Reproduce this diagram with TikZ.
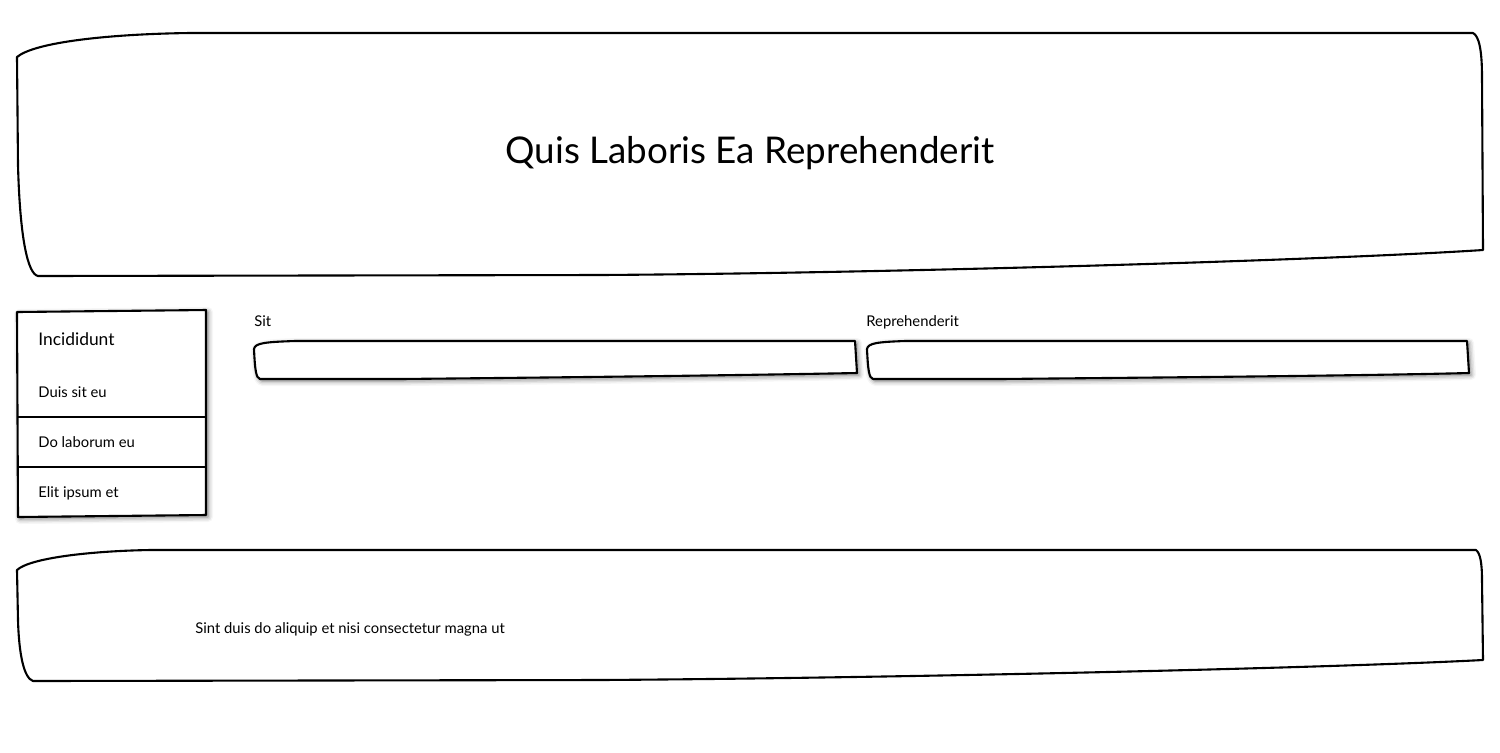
\documentclass[tikz,border=0pt]{standalone}
\usepackage{fontspec}
\setmainfont{Lato}
\usetikzlibrary{shadows.blur}
\tikzset{
  sketch/.style={draw=black, line width=1.05pt, line join=round, fill=white},
  shadowed/.style={sketch, blur shadow={shadow xshift=1pt, shadow yshift=-1pt, shadow blur radius=2.5pt, shadow opacity=55}},
  txt/.style={inner sep=0pt, anchor=base west, text=black},
  small/.style={font=\fontsize{7.4}{9}\selectfont},
}
\begin{document}
\begin{tikzpicture}[x=0.5pt, y=-0.5pt]
\useasboundingbox (0,0) rectangle (1500,752);
% header
\draw[sketch] (17,57) .. controls (35,42) and (110,34) .. (190,33) -- (1473,33)
  .. controls (1479,36) and (1482,50) .. (1482,77) -- (1483,250)
  .. controls (1330,260) and (900,273) .. (600,275) -- (38,276)
  .. controls (28,274) and (20,240) .. (18,165) -- cycle;
\node[inner sep=0pt, anchor=base, font=\fontsize{18.4}{21}\selectfont] (title) at (750,163) {Quis Laboris Ea Reprehenderit};
% sidebar
\draw[shadowed] (17,312) -- (206,310) -- (206,515) -- (18,517) -- cycle;
\coordinate (d1l) at (17,417); \coordinate (d1r) at (206,417);
\coordinate (d2l) at (17,467); \coordinate (d2r) at (206,467);
\draw[line width=1.05pt] (d1l) -- (d1r);
\draw[line width=1.05pt] (d2l) -- (d2r);
\node[txt, font=\fontsize{8.7}{10}\selectfont] (inc) at (38,345) {Incididunt};
\node[txt, small] (duis) at (38,397) {Duis sit eu};
\node[txt, small] (dolab) at (38,447) {Do laborum eu};
\node[txt, small] (elit) at (38,497) {Elit ipsum et};
% labels
\node[txt, small] (sit) at (254,326) {Sit};
\node[txt, small] (rep) at (866,326) {Reprehenderit};
% inputs
\draw[shadowed] (254,349) .. controls (255,343) and (265,342) .. (295,341) -- (855,341)
  -- (857,373) .. controls (700,376) and (500,378) .. (400,379) -- (260,379)
  .. controls (256,378) and (255,370) .. cycle;
\draw[shadowed] (867,349) .. controls (868,343) and (878,342) .. (905,341) -- (1467,341)
  -- (1469,373) .. controls (1350,376) and (1100,378) .. (1000,379) -- (873,379)
  .. controls (869,378) and (868,370) .. cycle;
% footer
\draw[sketch] (17,570) .. controls (30,558) and (90,551) .. (150,550) -- (1476,550)
  .. controls (1480,553) and (1482,562) .. (1482,580) -- (1483,660)
  .. controls (1330,668) and (900,678) .. (600,680) -- (33,681)
  .. controls (24,678) and (19,655) .. (18,620) -- cycle;
\node[txt, small] (foot) at (195,633) {Sint duis do aliquip et nisi consectetur magna ut};
\end{tikzpicture}
\end{document}
